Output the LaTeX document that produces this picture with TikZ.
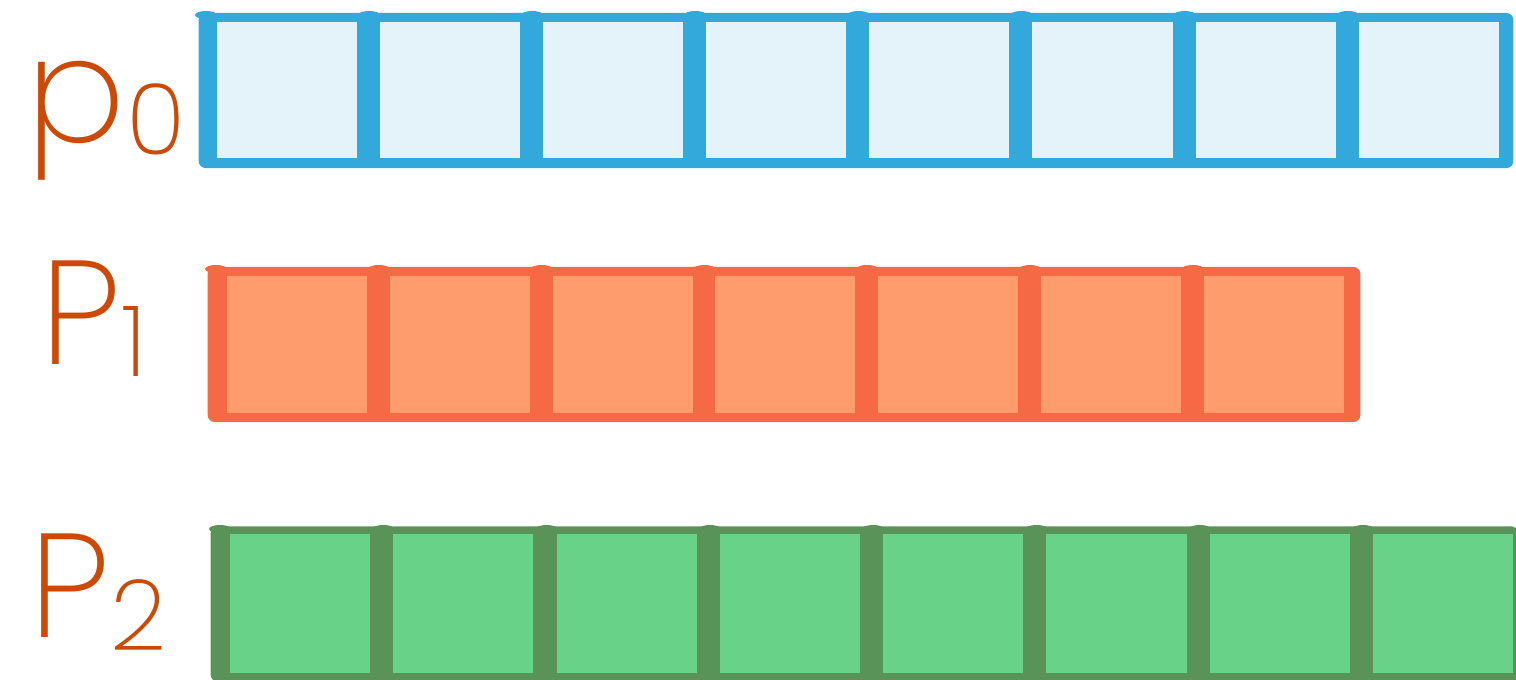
\documentclass[tikz,border=0pt]{standalone}
\usepackage{fontspec}
\setmainfont{Poppins ExtraLight}
\usepackage{xcolor}
\usepackage{tikz}
\definecolor{labelred}{HTML}{CB4A08}
\definecolor{blueedge}{HTML}{33A8DB}
\definecolor{bluefill}{HTML}{E4F2F9}
\definecolor{orangeedge}{HTML}{F56A44}
\definecolor{orangefill}{HTML}{FE9C6E}
\definecolor{greenedge}{HTML}{5A9357}
\definecolor{greenfill}{HTML}{68D388}
\newcommand{\pidx}[1]{\raisebox{-0.12cm}{\fontsize{28}{28}\selectfont #1}}

\begin{document}
\begin{tikzpicture}[x=0.01cm, y=-0.01cm,
			lbl/.style={anchor=base west, inner sep=0, color=labelred, font=\fontsize{42}{42}\selectfont},
			frame/.style={rounded corners=2pt, inner sep=0, outer sep=0, minimum height=1.55cm},
			cell/.style={inner sep=0, outer sep=0, minimum width=1.4cm, minimum height=1.37cm}
		]
		\useasboundingbox (0,0) rectangle (1516,680);

		% labels
		\node[lbl] (p0) at (26,143) {p\pidx{0}};
		\node[lbl] (p1) at (40,365) {P\pidx{1}};
		\node[lbl] (p2) at (29,638) {P\pidx{2}};

		% row p0
		\node[frame, fill=blueedge, minimum width=13.14cm] (row0) at (856,90.5) {};
		\foreach \i in {0,...,7} {
			\node[cell, fill=bluefill, minimum height=1.36cm] (b\i) at ({287+163.1*\i},90) {};
			\fill[blueedge] ({206+163.1*\i},15) ellipse (11 and 4);
		}

		% row P1
		\node[frame, fill=orangeedge, minimum width=11.52cm] (row1) at (784,344.5) {};
		\foreach \i in {0,...,6} {
			\node[cell, fill=orangefill] (o\i) at ({297+162.8*\i},344.5) {};
			\fill[orangeedge] ({216+162.8*\i},269) ellipse (11 and 4);
		}

		% row P2
		\node[frame, fill=greenedge, minimum width=13.07cm] (row2) at (864.5,604) {};
		\foreach \i in {0,...,7} {
			\node[cell, fill=greenfill, minimum height=1.39cm] (g\i) at ({300+163.3*\i},603.5) {};
			\fill[greenedge] ({220+163.3*\i},529) ellipse (11 and 4);
		}
	\end{tikzpicture}
\end{document}
